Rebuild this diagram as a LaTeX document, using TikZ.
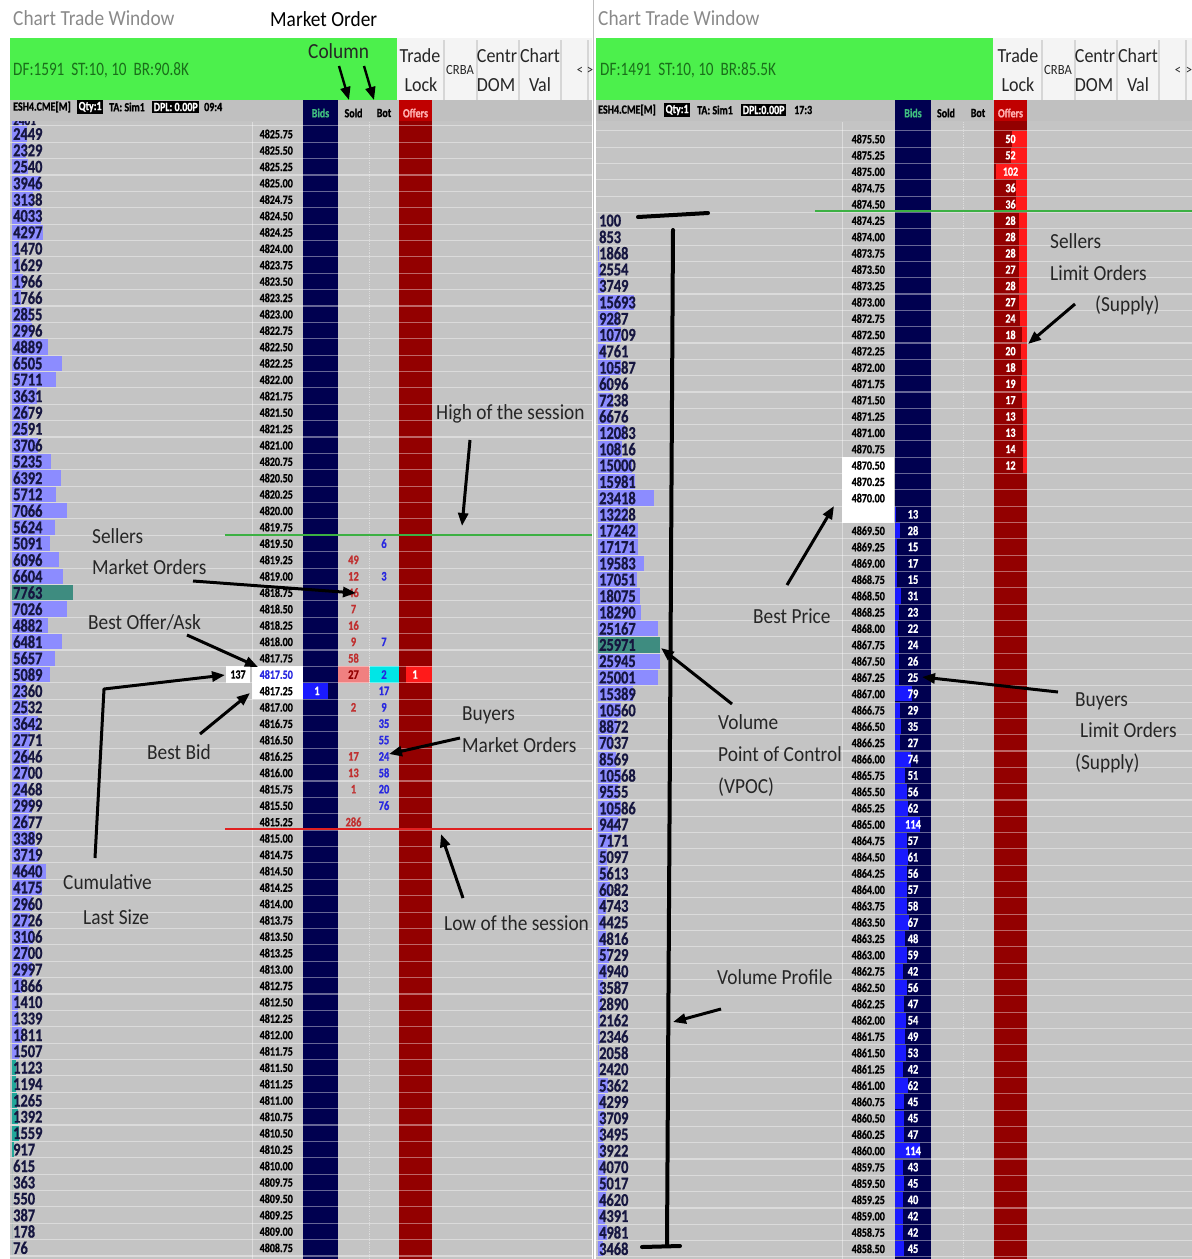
\documentclass[tikz,border=0pt]{standalone}
\usepackage{fontspec}
\usepackage{graphicx}
\setmainfont{Carlito}
\newfontfamily\numfont[FakeStretch=0.8,FakeBold=0.8]{Carlito Bold}
\newfontfamily\numreg[FakeStretch=0.8]{Carlito}
\newfontfamily\annofont[FakeStretch=0.9]{Carlito}
\usetikzlibrary{arrows.meta}
\newcommand{\fsz}[1]{\fontsize{#1}{#1}\selectfont}
\definecolor{panelbg}{HTML}{C4C4C4}
\definecolor{hdrbg}{HTML}{C0C0C0}
\definecolor{navy}{HTML}{000050}
\definecolor{darkred}{HTML}{930000}
\definecolor{hdrred}{HTML}{C00000}
\definecolor{brightred}{HTML}{FF1A1A}
\definecolor{brightblue}{HTML}{1A1AFF}
\definecolor{volbar}{HTML}{8C8CFF}
\definecolor{tealbar}{HTML}{22A89A}
\definecolor{vpoc}{HTML}{3E8C80}
\definecolor{gbar}{HTML}{4CF04C}
\definecolor{gtext}{HTML}{1A6E1A}
\definecolor{anno}{HTML}{262626}
\definecolor{titlegray}{HTML}{8A8A8A}
\definecolor{soldred}{HTML}{C03030}
\definecolor{botblue}{HTML}{2828E0}
\definecolor{volnum}{HTML}{161640}
\definecolor{btnbg}{HTML}{F4F4F4}
\definecolor{hiline}{HTML}{3CB043}
\definecolor{loline}{HTML}{E02020}
\definecolor{pinkcell}{HTML}{F08080}
\definecolor{cyancell}{HTML}{00E6E6}
\definecolor{bidsgreen}{HTML}{40C080}
\definecolor{offerpink}{HTML}{FFB0B0}
\tikzset{
  volt/.style={font=\numfont\fsz{18}, text=volnum, anchor=west, inner sep=0pt},
  pricet/.style={font=\numfont\fsz{12.5}, anchor=east, inner sep=0pt},
  cellt/.style={font=\numfont\fsz{13}, inner sep=0pt},
  hdrt/.style={font=\numfont\fsz{12.5}, anchor=west, inner sep=0pt},
  hdrbox/.style={hdrt, fill=black, text=white, inner xsep=1.5pt, inner ysep=1.5pt},
  annot/.style={font=\annofont\fsz{21.5}, text=anno, anchor=west, inner sep=0pt, text height=13pt, text depth=0pt},
  titlet/.style={annot, text=titlegray},
  btnt/.style={font=\annofont\fsz{20}, text=anno, inner sep=0pt},
  smallbtn/.style={font=\annofont\fsz{14}, text=anno, inner sep=0pt},
  dft/.style={font=\numreg\fsz{19}, text=gtext, anchor=west, inner sep=0pt},
  arr/.style={draw=black, line width=3pt, -{Triangle[length=13pt,width=10pt]}},
  rowline/.style={draw=white, draw opacity=0.4, line width=1.1pt},
  vsep/.style={draw=white, draw opacity=0.4, line width=0.8pt},
  btnsep/.style={draw=black!16, line width=1.2pt},
  bracket/.style={draw=black, line width=4pt, line cap=round},
}
\def\leftdata{2449/4825.75,2329/4825.50,2540/4825.25,3946/4825.00,3138/4824.75,4033/4824.50,4297/4824.25,1470/4824.00,1629/4823.75,1966/4823.50,1766/4823.25,2855/4823.00,2996/4822.75,4889/4822.50,6505/4822.25,5711/4822.00,3631/4821.75,2679/4821.50,2591/4821.25,3706/4821.00,5235/4820.75,6392/4820.50,5712/4820.25,7066/4820.00,5624/4819.75,5091/4819.50,6096/4819.25,6604/4819.00,7763/4818.75,7026/4818.50,4882/4818.25,6481/4818.00,5657/4817.75,5089/4817.50,2360/4817.25,2532/4817.00,3642/4816.75,2771/4816.50,2646/4816.25,2700/4816.00,2468/4815.75,2999/4815.50,2677/4815.25,3389/4815.00,3719/4814.75,4640/4814.50,4175/4814.25,2960/4814.00,2726/4813.75,3106/4813.50,2700/4813.25,2997/4813.00,1866/4812.75,1410/4812.50,1339/4812.25,1811/4812.00,1507/4811.75,1123/4811.50,1194/4811.25,1265/4811.00,1392/4810.75,1559/4810.50,917/4810.25,615/4810.00,363/4809.75,550/4809.50,387/4809.25,178/4809.00,76/4808.75}
\def\rprices{4875.50,4875.25,4875.00,4874.75,4874.50,4874.25,4874.00,4873.75,4873.50,4873.25,4873.00,4872.75,4872.50,4872.25,4872.00,4871.75,4871.50,4871.25,4871.00,4870.75,4870.50,4870.25,4870.00,4869.75,4869.50,4869.25,4869.00,4868.75,4868.50,4868.25,4868.00,4867.75,4867.50,4867.25,4867.00,4866.75,4866.50,4866.25,4866.00,4865.75,4865.50,4865.25,4865.00,4864.75,4864.50,4864.25,4864.00,4863.75,4863.50,4863.25,4863.00,4862.75,4862.50,4862.25,4862.00,4861.75,4861.50,4861.25,4861.00,4860.75,4860.50,4860.25,4860.00,4859.75,4859.50,4859.25,4859.00,4858.75,4858.50}
\def\rvols{100,853,1868,2554,3749,15693,9287,10709,4761,10587,6096,7238,6676,12083,10816,15000,15981,23418,13228,17242,17171,19583,17051,18075,18290,25167,25971,25945,25001,15389,10560,8872,7037,8569,10568,9555,10586,9447,7171,5097,5613,6082,4743,4425,4816,5729,4940,3587,2890,2162,2346,2058,2420,5362,4299,3709,3495,3922,4070,5017,4620,4391,4981,3468}
\def\rbids{13,28,15,17,15,31,23,22,24,26,25,79,29,35,27,74,51,56,62,114,57,61,56,57,58,67,48,59,42,56,47,54,49,53,42,62,45,45,47,114,43,45,40,42,42,45}
\def\roffers{50,52,102,36,36,28,28,28,27,28,27,24,18,20,18,19,17,13,13,14,12}
\begin{document}
\begin{tikzpicture}[x=1pt,y=-1pt]
\useasboundingbox (0,0) rectangle (1192,1259);
\fill[white] (0,0) rectangle (1192,1259);

% ---------------- panel backgrounds ----------------
\fill[panelbg] (10,100) rectangle (592,1259);
\fill[panelbg] (596,100) rectangle (1192,1259);
\fill[navy] (303,100) rectangle (338,1259);
\fill[darkred] (399,100) rectangle (432,1259);
\fill[navy] (895,100) rectangle (931,1259);
\fill[darkred] (994,100) rectangle (1027,1259);

% ---------------- special cells ----------------
\fill[white] (252,666.3) rectangle (303,699.1);
\fill[white] (226,666.3) rectangle (250,682.7);
\fill[pinkcell] (338,666.3) rectangle (369,682.7);
\fill[cyancell] (370,666.3) rectangle (399,682.7);
\fill[brightred] (406,666.3) rectangle (432,682.7);
\fill[brightblue] (303,682.7) rectangle (328,699.1);
\fill[white] (842,457.2) rectangle (894,522.5);

% ---------------- volume bars ----------------
\foreach \v/\p [count=\i from 0] in \leftdata {
  \pgfmathsetmacro\yc{134+16.38*\i}
  \pgfmathsetmacro\w{max(0,(\v-700)/115)}
  \ifnum\i>56 \def\bc{tealbar}\else\def\bc{volbar}\fi
  \ifnum\i=28 \def\bc{vpoc}\fi
  \fill[\bc] (12,\yc-7.6) rectangle ++(\w,15.2);
}
\begin{scope}
  \clip (10,120.5) rectangle (250,126);
  \fill[volbar] (12,110) rectangle (27,125.4);
  \node[volt, font=\numfont\fsz{14}] (lvtop) at (13,120.5) {2401};
\end{scope}
\foreach \b [count=\k from 23] in \rbids {
  \pgfmathsetmacro\yc{139+16.32*\k}
  \pgfmathsetmacro\w{max(1,(\b-8)*0.24)}
  \fill[brightblue] (895,\yc-7.6) rectangle ++(\w,15.2);
}
\foreach \o [count=\k from 0] in \roffers {
  \pgfmathsetmacro\yc{139+16.32*\k}
  \pgfmathsetmacro\w{min(33,\o*0.3)}
  \fill[brightred] (1027-\w,\yc-7.6) rectangle (1027,\yc+7.6);
}
\foreach \v [count=\k from 5] in \rvols {
  \pgfmathsetmacro\yc{139+16.32*\k}
  \edef\wi{\number\numexpr(\v*10-15000)/395\relax}
  \pgfmathsetmacro\w{max(0,\wi/10)}
  \ifnum\k=31 \def\bc{vpoc}\else\def\bc{volbar}\fi
  \fill[\bc] (598,\yc-7.6) rectangle ++(\w,15.2);
}

% ---------------- grid lines ----------------
\foreach \j in {0,...,69} {
  \pgfmathsetmacro\yy{134+16.38*(\j-0.5)}
  \draw[rowline] (10,\yy) -- (592,\yy);
  \pgfmathsetmacro\yr{139+16.32*(\j-0.5)}
  \draw[rowline] (596,\yr) -- (1192,\yr);
}
\draw[vsep] (252,122) -- (252,1259);
\draw[vsep, densely dotted] (369,122) -- (369,1259);
\draw[vsep] (842,122) -- (842,1259);
\draw[vsep, densely dotted] (963,122) -- (963,1259);

% ---------------- header rows ----------------
\fill[hdrbg] (10,100) rectangle (592,120.5);
\fill[navy] (303,100) rectangle (338,120.5);
\fill[hdrred] (399,100) rectangle (432,120.5);
\fill[hdrbg] (596,100) rectangle (1192,121);
\fill[navy] (895,100) rectangle (931,121);
\fill[hdrred] (994,100) rectangle (1027,121);
\node[hdrt] (lh1) at (13,107) {ESH4.CME[M]};
\node[hdrbox] (lh2) at (77,107) {Qty:1};
\node[hdrt] (lh3) at (109,107) {TA: Sim1};
\node[hdrbox] (lh4) at (152,107) {DPL: 0.00P};
\node[hdrt] (lh5) at (204,107) {09:4};
\node[hdrt, anchor=center, text=bidsgreen] (lhb) at (320.5,113) {Bids};
\node[hdrt, anchor=center] (lhs) at (353.5,113) {Sold};
\node[hdrt, anchor=center] (lhbt) at (384,113) {Bot};
\node[hdrt, anchor=center, text=offerpink] (lho) at (415.5,113) {Offers};
\node[hdrt] (rh1) at (598,110) {ESH4.CME[M]};
\node[hdrbox] (rh2) at (664,110) {Qty:1};
\node[hdrt] (rh3) at (697,110) {TA: Sim1};
\node[hdrbox] (rh4) at (741,110) {DPL:0.00P};
\node[hdrt] (rh5) at (794,110) {17:3};
\node[hdrt, anchor=center, text=bidsgreen] (rhb) at (913,113) {Bids};
\node[hdrt, anchor=center] (rhs) at (946,113) {Sold};
\node[hdrt, anchor=center] (rhbt) at (978,113) {Bot};
\node[hdrt, anchor=center, text=offerpink] (rho) at (1010.5,113) {Offers};

% ---------------- left texts ----------------
\foreach \v/\p [count=\i from 0] in \leftdata {
  \pgfmathsetmacro\yc{134+16.38*\i}
  \ifnum\i=33 \def\pc{botblue}\else\def\pc{black}\fi
  \node[volt] (lv\i) at (13,\yc) {\v};
  \node[pricet, text=\pc] (lp\i) at (293,\yc) {\p};
}
\node[cellt, font=\numfont\fsz{12.5}] (lc137) at (238,674.5) {137};
\foreach \k/\s in {26/49,27/12,28/46,29/7,30/16,31/9,32/58,35/2,38/17,39/13,40/1,42/286} {
  \pgfmathsetmacro\yc{134+16.38*\k}
  \node[cellt, text=soldred] (ls\k) at (353.5,\yc) {\s};
}
\node[cellt, text=darkred] (ls33) at (353.5,674.5) {27};
\foreach \k/\s in {25/6,27/3,31/7,34/17,35/9,36/35,37/55,38/24,39/58,40/20,41/76} {
  \pgfmathsetmacro\yc{134+16.38*\k}
  \node[cellt, text=botblue] (lb\k) at (384,\yc) {\s};
}
\node[cellt, text=botblue] (lb33) at (384,674.5) {2};
\node[cellt, text=white] (lo33) at (415,674.5) {1};
\node[cellt, text=white] (lbid34) at (317,690.9) {1};

% ---------------- right texts ----------------
\foreach \p [count=\k from 0] in \rprices {
  \pgfmathsetmacro\yc{139+16.32*\k}
  \ifnum\k=23 \else \node[pricet] (rp\k) at (885,\yc) {\p}; \fi
}
\foreach \v [count=\k from 5] in \rvols {
  \pgfmathsetmacro\yc{139+16.32*\k}
  \node[volt] (rv\k) at (599,\yc) {\v};
}
\foreach \b [count=\k from 23] in \rbids {
  \pgfmathsetmacro\yc{139+16.32*\k}
  \node[cellt, text=white] (rb\k) at (913,\yc) {\b};
}
\foreach \o [count=\k from 0] in \roffers {
  \pgfmathsetmacro\yc{139+16.32*\k}
  \node[cellt, text=white, font=\numfont\fsz{12.5}] (ro\k) at (1010.5,\yc) {\o};
}

% ---------------- session lines ----------------
\draw[hiline, line width=1.5pt] (225,535) -- (592,535);
\draw[loline, line width=1.5pt] (225,829) -- (592,829);
\draw[hiline, line width=1.5pt] (815,211) -- (1192,211);

% ---------------- top bars ----------------
\fill[gbar] (10,38) rectangle (397,100);
\fill[btnbg] (397,38) rectangle (592,100);
\fill[gbar] (596,38) rectangle (993,100);
\fill[btnbg] (993,38) rectangle (1192,100);
\foreach \x in {444,477,519,561,588} \draw[btnsep] (\x,40) -- (\x,100);
\foreach \x in {1042,1075,1117,1159,1186} \draw[btnsep] (\x,40) -- (\x,100);
\draw[draw=black!25, line width=1pt] (593.5,0) -- (593.5,1259);

\node[titlet] (ltitle) at (13,19) {Chart Trade Window};
\node[annot, text=black] (lmo) at (270,20) {Market Order};
\node[titlet] (rtitle) at (598,19) {Chart Trade Window};
\node[dft] (ldf) at (13,70) {DF:1591\ \ ST:10, 10\ \ BR:90.8K};
\node[dft] (rdf) at (600,70) {DF:1491\ \ ST:10, 10\ \ BR:85.5K};

\node[btnt] (lb1a) at (420,56) {Trade};
\node[btnt] (lb1b) at (421,85) {Lock};
\node[smallbtn] (lb2) at (460,70) {CRBA};
\node[btnt] (lb3a) at (497,56) {Centr};
\node[btnt] (lb3b) at (496,85) {DOM};
\node[btnt] (lb4a) at (540,56) {Chart};
\node[btnt] (lb4b) at (540,85) {Val};
\begin{scope}
  \clip (562,38) rectangle (592,100);
  \node[smallbtn] (lb5) at (580,71) {<};
  \node[smallbtn] (lb6) at (590,71) {>};
\end{scope}
\node[btnt] (rb1a) at (1018,56) {Trade};
\node[btnt] (rb1b) at (1018,85) {Lock};
\node[smallbtn] (rb2) at (1058,70) {CRBA};
\node[btnt] (rb3a) at (1095,56) {Centr};
\node[btnt] (rb3b) at (1094,85) {DOM};
\node[btnt] (rb4a) at (1138,56) {Chart};
\node[btnt] (rb4b) at (1138,85) {Val};
\node[smallbtn] (rb5) at (1178,71) {<};
\node[smallbtn] (rb6) at (1189,71) {>};

% ---------------- annotations left ----------------
\node[annot] (col) at (308,52) {Column};
\coordinate (colA1) at (339,66); \coordinate (colA2) at (349,100);
\coordinate (colB1) at (364,66); \coordinate (colB2) at (374,100);
\draw[arr, line width=2.4pt] (colA1) -- (colA2);
\draw[arr, line width=2.4pt] (colB1) -- (colB2);

\node[annot] (high) at (436,413) {High of the session};
\coordinate (highA) at (470,440); \coordinate (highB) at (462,526);
\draw[arr] (highA) -- (highB);

\node[annot] (sell1) at (92,537) {Sellers};
\node[annot] (sell2) at (92,568) {Market Orders};
\coordinate (sellA) at (193,581); \coordinate (sellB) at (356,593);
\draw[arr] (sellA) -- (sellB);

\node[annot] (boa) at (88,623) {Best Offer/Ask};
\coordinate (boaA) at (187,635); \coordinate (boaB) at (258,667);
\draw[arr] (boaA) -- (boaB);

\node[annot] (bbid) at (147,753) {Best Bid};
\coordinate (bbA) at (200,734); \coordinate (bbB) at (250,693);
\draw[arr] (bbA) -- (bbB);

\node[annot] (cum1) at (63,883) {Cumulative};
\node[annot] (cum2) at (83,918) {Last Size};
\coordinate (cumA) at (95,858); \coordinate (cumK) at (104,689); \coordinate (cumB) at (225,675);
\draw[arr, line join=round] (cumA) -- (cumK) -- (cumB);

\node[annot] (buy1) at (462,714) {Buyers};
\node[annot] (buy2) at (462,746) {Market Orders};
\coordinate (buyA) at (460,738); \coordinate (buyB) at (389,754);
\draw[arr] (buyA) -- (buyB);

\node[annot] (low) at (444,924) {Low of the session};
\coordinate (lowA) at (463,898); \coordinate (lowB) at (441,834);
\draw[arr] (lowA) -- (lowB);

% ---------------- annotations right ----------------
\node[annot] (sl1) at (1050,242) {Sellers};
\node[annot] (sl2) at (1050,274) {Limit Orders};
\node[annot] (sl3) at (1095,305) {(Supply)};
\coordinate (slA) at (1075,304); \coordinate (slB) at (1028,344);
\draw[arr] (slA) -- (slB);

\coordinate (brT1) at (638,217); \coordinate (brT2) at (708,213);
\coordinate (brV1) at (673,230); \coordinate (brV2) at (667,1246);
\coordinate (brB1) at (642,1247); \coordinate (brB2) at (680,1246);
\draw[bracket] (brT1) -- (brT2);
\draw[bracket] (brV1) -- (brV2);
\draw[bracket] (brB1) -- (brB2);

\node[annot] (bp) at (753,617) {Best Price};
\coordinate (bpA) at (787,585); \coordinate (bpB) at (834,506);
\draw[arr] (bpA) -- (bpB);

\node[annot] (vp1) at (718,723) {Volume};
\node[annot] (vp2) at (718,755) {Point of Control};
\node[annot] (vp3) at (718,787) {(VPOC)};
\coordinate (vpA) at (732,704); \coordinate (vpB) at (661,648);
\draw[arr] (vpA) -- (vpB);

\node[annot] (bl1) at (1075,700) {Buyers};
\node[annot] (bl2) at (1080,731) {Limit Orders};
\node[annot] (bl3) at (1075,763) {(Supply)};
\coordinate (blA) at (1058,692); \coordinate (blB) at (922,677);
\draw[arr] (blA) -- (blB);

\node[annot] (vprof) at (717,978) {Volume Profile};
\coordinate (vprA) at (721,1009); \coordinate (vprB) at (673,1022);
\draw[arr] (vprA) -- (vprB);
\end{tikzpicture}
\end{document}
